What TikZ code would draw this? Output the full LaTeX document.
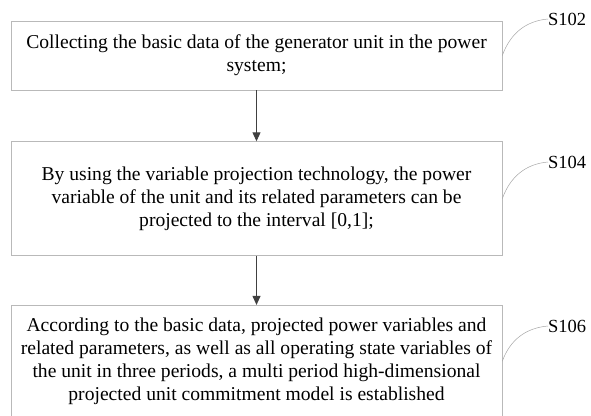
\documentclass[tikz,border=0pt]{standalone}
\usepackage{fontspec}
\setmainfont{Liberation Serif}
\usetikzlibrary{positioning,arrows.meta}

\begin{document}
\begin{tikzpicture}[x=1pt,y=1pt,
  stepbox/.style={draw=gray!55,line width=0.6pt,minimum width=491pt,align=center,
    font=\fontsize{19.6}{22.8}\selectfont,inner sep=0pt},
  arr/.style={-{Triangle[length=9pt,width=8pt]},line width=1pt,draw=black!75,fill=black!75},
  tag/.style={font=\fontsize{18.5}{22}\selectfont,inner sep=0pt,anchor=west},
  leader/.style={draw=gray!70,line width=0.5pt},node distance=49pt]
\useasboundingbox (0,0) rectangle (591,-415);
\node[stepbox,minimum height=69pt] (s102) at (256.5,-55.5)
  {Collecting the basic data of the generator unit in the power\\system;};
\node[stepbox,minimum height=114pt,below=51pt of s102] (s104)
  {By using the variable projection technology, the power\\variable of the unit and its related parameters can be\\projected to the interval [0,1];};
\node[stepbox,minimum height=112pt,below=of s104] (s106)
  {According to the basic data, projected power variables and\\related parameters, as well as all operating state variables of\\the unit in three periods, a multi period high-dimensional\\projected unit commitment model is established};
% step labels
\node[tag] (l102) at (548,-19) {S102};
\node[tag] (l104) at (548,-162) {S104};
\node[tag] (l106) at (548,-326) {S106};
\draw[arr] (s102)--(s104); \draw[arr] (s104)--(s106);
\draw[leader] (s102.east) to[out=70,in=185] (l102.west);
\draw[leader] (s104.east) to[out=70,in=185] (l104.west);
\draw[leader] (s106.east) to[out=70,in=185] (l106.west);
\end{tikzpicture}
\end{document}
